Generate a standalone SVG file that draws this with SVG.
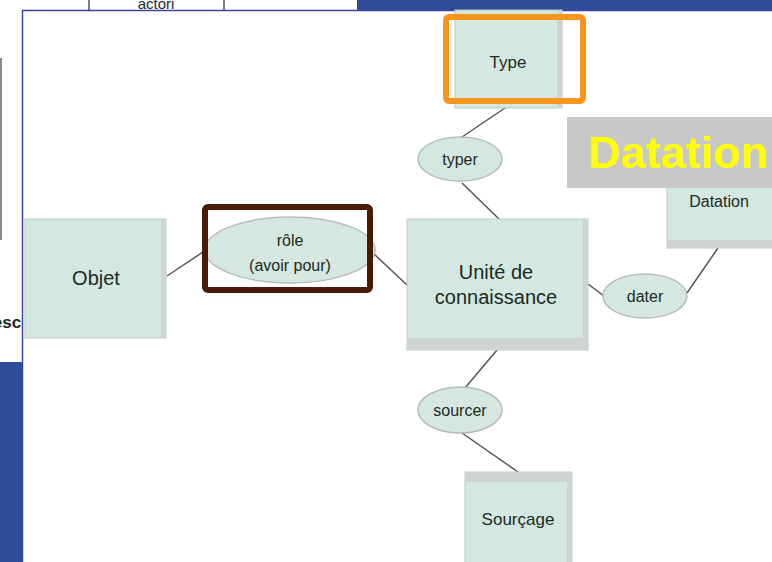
<svg xmlns="http://www.w3.org/2000/svg" width="772" height="562" viewBox="0 0 772 562">
<style>
text{font-family:"Liberation Sans",Arial,sans-serif;fill:#1c2a24;text-anchor:middle}
.box{fill:#d3e8e0;stroke:#b9c9c3;stroke-width:1}
.sh{fill:#cfd3d1}
.ell{fill:#d5e8e0;stroke:#b8bcbb;stroke-width:1.5}
.con line{stroke:#555;stroke-width:1.5}
</style>
<rect x="0" y="0" width="772" height="562" fill="#2f4c98"/>
<rect x="0" y="0" width="357" height="11" fill="#fff"/>
<rect x="0" y="0" width="23" height="362" fill="#fff"/>
<g id="bg-fragments">
<line x1="89" y1="0" x2="89" y2="10" stroke="#555" stroke-width="1.5"/>
<line x1="224" y1="0" x2="224" y2="10" stroke="#555" stroke-width="1.5"/>
<text x="156" y="9" font-size="15" fill="#333">actori</text>
<line x1="1" y1="58" x2="1" y2="240" stroke="#666" stroke-width="1.5"/>
<text x="7" y="328" font-size="17" font-weight="bold" fill="#333">esc</text>
</g>
<rect x="22.5" y="10.5" width="760" height="560" fill="#fff" stroke="#3a45a0" stroke-width="1.5"/>
<g class="con" id="connectors">
<line x1="508" y1="106" x2="462" y2="137"/>
<line x1="462" y1="183" x2="500" y2="220"/>
<line x1="167" y1="276" x2="206" y2="250"/>
<line x1="373" y1="253" x2="407" y2="285"/>
<line x1="588" y1="284" x2="604" y2="296"/>
<line x1="687" y1="293" x2="718" y2="248"/>
<line x1="497" y1="350" x2="465" y2="388"/>
<line x1="462" y1="433" x2="518" y2="472"/>
</g>
<g id="type">
<rect class="box" x="455" y="10" width="107" height="98"/>
<rect class="sh" x="557" y="10" width="5" height="98"/>
<text x="508" y="68" font-size="17">Type</text>
</g>
<g id="typer">
<ellipse class="ell" cx="460" cy="159" rx="42" ry="22"/>
<text x="460" y="165" font-size="16">typer</text>
</g>
<g id="unite">
<rect class="box" x="407" y="219" width="181" height="131"/>
<rect class="sh" x="407" y="338" width="181" height="12"/>
<rect class="sh" x="583" y="219" width="5" height="131"/>
<text x="496" y="279" font-size="20">Unité de</text>
<text x="496" y="304" font-size="20">connaissance</text>
</g>
<g id="objet">
<rect class="box" x="25" y="219" width="141" height="119"/>
<rect class="sh" x="161" y="219" width="5" height="119"/>
<text x="96" y="285" font-size="20">Objet</text>
</g>
<g id="role">
<ellipse class="ell" cx="290" cy="250" rx="85" ry="33"/>
<text x="290" y="246" font-size="16">rôle</text>
<text x="290" y="271" font-size="16">(avoir pour)</text>
</g>
<g id="dater">
<ellipse class="ell" cx="645" cy="296" rx="42" ry="22"/>
<text x="645" y="302" font-size="16">dater</text>
</g>
<g id="datation">
<rect class="box" x="667" y="160" width="110" height="88"/>
<rect class="sh" x="667" y="240" width="110" height="8"/>
<text x="719" y="207" font-size="16">Datation</text>
</g>
<g id="sourcer">
<ellipse class="ell" cx="460" cy="410" rx="42" ry="23"/>
<text x="460" y="416" font-size="16">sourcer</text>
</g>
<g id="sourcage">
<rect class="box" x="465" y="472" width="107" height="95"/>
<rect class="sh" x="465" y="472" width="107" height="10"/>
<rect class="sh" x="567" y="472" width="5" height="95"/>
<text x="518" y="525" font-size="17">Sourçage</text>
</g>
<g id="highlights">
<rect x="446" y="17" width="137" height="84" rx="3" fill="none" stroke="#f7961a" stroke-width="6"/>
<rect x="205" y="207" width="165" height="83" rx="3" fill="none" stroke="#4a1a08" stroke-width="6"/>
</g>
<g id="datation-label">
<rect x="567" y="117" width="205" height="71" fill="#c8c8c8"/>
<text x="588" y="168" font-size="45" font-weight="bold" style="fill:#ffff00;text-anchor:start">Datation</text>
</g>
</svg>
